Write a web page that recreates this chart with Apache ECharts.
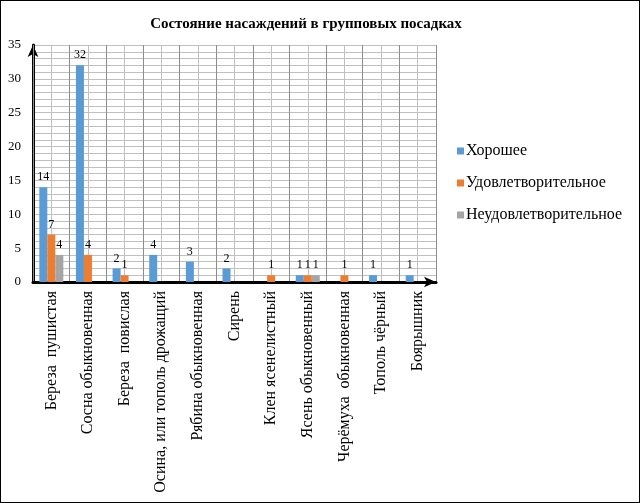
<!DOCTYPE html>
<html>
<head>
<meta charset="utf-8">
<script src="https://cdn.jsdelivr.net/npm/echarts@6/dist/echarts.min.js"></script>
<style>
    html, body { margin: 0; padding: 0; background: #fff; }
    #chart { width: 638px; height: 501px; border: 1px solid #000; }
</style>
</head>
<body>
<div id="chart"></div>
<script>
// данные диаграммы
const categories = [
    'Береза  пушистая', 'Сосна обыкновенная', 'Береза  повислая',
    'Осина, или тополь дрожащий', 'Рябина обыкновенная', 'Сирень',
    'Клен ясенелистный', 'Ясень обыкновенный', 'Черёмуха  обыкновенная',
    'Тополь чёрный', 'Боярышник'
];
const good = [14, 32, 2, 4, 3, 2, 0, 1, 0, 1, 1];
const fair = [7, 4, 1, 0, 0, 0, 1, 1, 1, 0, 0];
const poor = [4, 0, 0, 0, 0, 0, 0, 1, 0, 0, 0];
const seriesNames = ['Хорошее', 'Удовлетворительное', 'Неудовлетворительное'];
const colors = ['#5B9BD5', '#ED7D31', '#A5A5A5'];

const font = '"Liberation Serif", "Times New Roman", serif';

const chart = echarts.init(document.getElementById('chart'));

function makeSeries(name, data, color) {
    return {
        name: name,
        type: 'bar',
        xAxisIndex: 0,
        data: data,
        barWidth: 8,
        barGap: '0%',
        itemStyle: { color: color },
        label: {
            show: true,
            position: 'top',
            distance: 4,
            fontFamily: font,
            fontSize: 12,
            color: '#000',
            formatter: p => (p.value === 0 ? '' : p.value)
        }
    };
}

chart.setOption({
    animation: false,
    textStyle: { fontFamily: font },
    title: {
        text: 'Состояние насаждений в групповых посадках',
        left: 300,
        textAlign: 'center',
        top: 11,
        textStyle: { fontFamily: font, fontSize: 15, fontWeight: 'bold', color: '#000' }
    },
    legend: {
        orient: 'vertical',
        left: 451,
        top: 137,
        itemWidth: 7,
        itemHeight: 7,
        itemGap: 16,
        icon: 'rect',
        data: seriesNames,
        textStyle: { fontFamily: font, fontSize: 16, color: '#000', padding: [0, 0, 0, -3] }
    },
    grid: { left: 32, top: 44, width: 403, height: 237 },
    xAxis: [
        {
            type: 'category',
            data: categories,
            z: 2,
            axisLine: {
                lineStyle: { color: '#000', width: 3 },
                symbol: ['none', 'arrow'],
                symbolSize: [8, 12]
            },
            axisTick: { show: false },
            splitLine: { show: true, lineStyle: { color: '#8c8c8c', width: 1 } },
            axisLabel: {
                interval: 0,
                rotate: 90,
                margin: 9,
                fontFamily: font,
                fontSize: 16,
                color: '#000'
            }
        },
        {
            // вспомогательная ось для промежуточных вертикальных линий
            type: 'value',
            min: 0,
            max: categories.length,
            interval: 0.5,
            z: 0,
            position: 'top',
            axisLine: { show: false },
            axisTick: { show: false },
            axisLabel: { show: false },
            splitLine: { show: true, lineStyle: { color: '#c0c0c0', width: 1 } }
        }
    ],
    yAxis: {
        type: 'value',
        min: 0,
        max: 35,
        interval: 1,
        axisLine: {
            show: true,
            lineStyle: { color: '#000', width: 3 },
            symbol: ['none', 'arrow'],
            symbolSize: [8, 12]
        },
        axisTick: { show: false },
        axisLabel: {
            margin: 12,
            fontFamily: font,
            fontSize: 13,
            color: '#000',
            formatter: v => (v % 5 === 0 ? v : '')
        },
        splitLine: { show: true, lineStyle: { color: '#c0c0c0', width: 1 } }
    },
    series: [
        makeSeries(seriesNames[0], good, colors[0]),
        makeSeries(seriesNames[1], fair, colors[1]),
        makeSeries(seriesNames[2], poor, colors[2])
    ]
});
</script>
</body>
</html>
